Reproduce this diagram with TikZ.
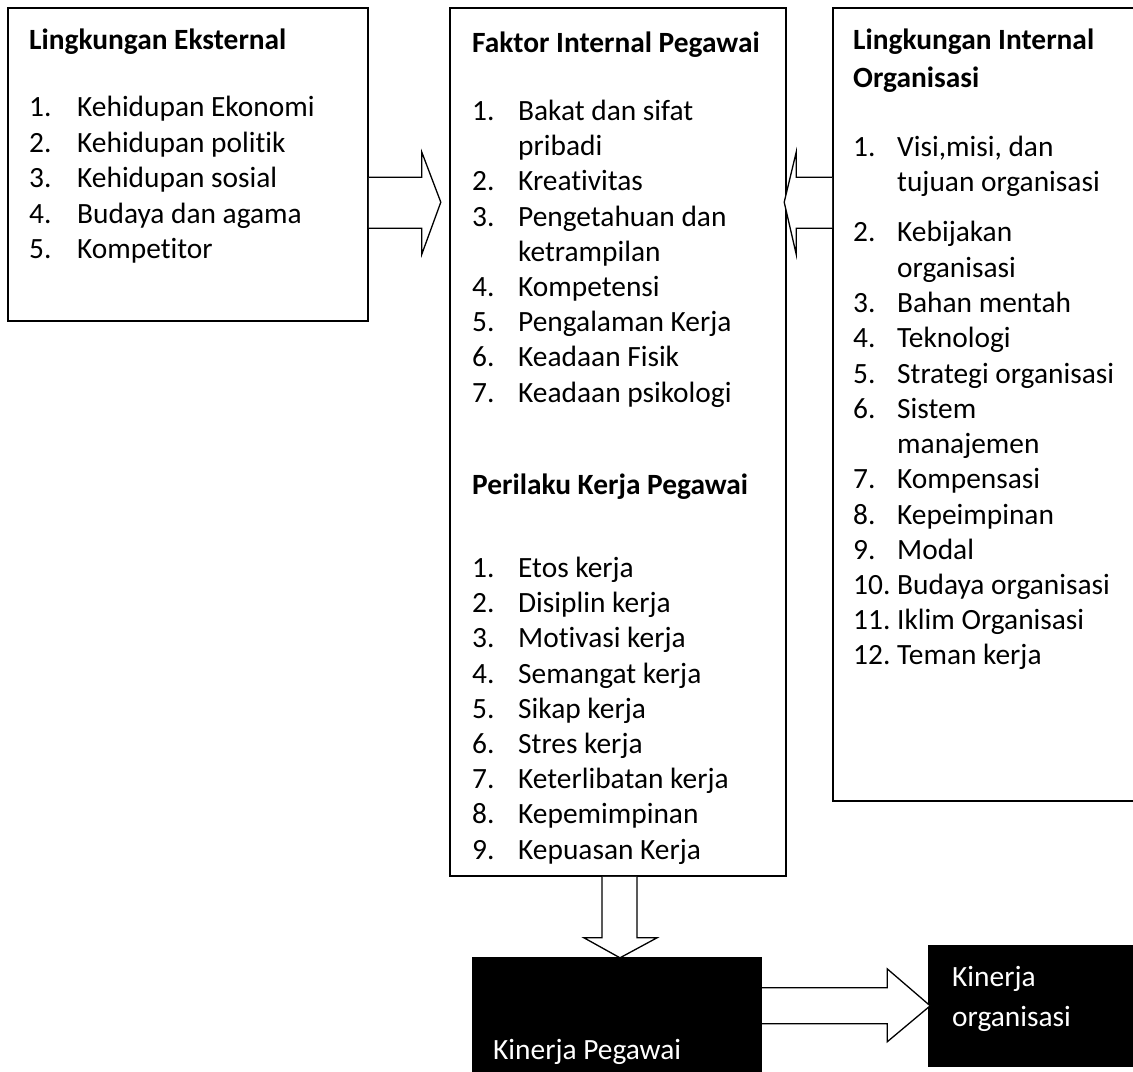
\documentclass[tikz,border=0pt]{standalone}
\usepackage{fontspec}
\setmainfont{Carlito}[Ligatures=NoCommon]
\usetikzlibrary{calc}

\begin{document}
\begin{tikzpicture}[x=1bp,y=-1bp,
  box/.style={draw,line width=1.6bp,inner sep=0pt},
  blackbox/.style={fill=black,inner sep=0pt},
  txt/.style={anchor=base west,inner sep=0pt,font=\fontsize{29.5}{35}\selectfont},
  head/.style={txt,font=\fontsize{29.5}{35}\selectfont\bfseries},
  wtxt/.style={txt,text=white},
  blockarrow/.style={draw,line width=1.3bp,fill=white,line join=miter}]
  \useasboundingbox[fill=white] (0,0) rectangle (1133,1072);

  % boxes
  \node[box,minimum width=360bp,minimum height=313bp] (ext) at (188,164.5) {};
  \node[box,minimum width=336bp,minimum height=868bp] (mid) at (618,442) {};
  \node[box,minimum width=327bp,minimum height=793bp] (org) at (996.5,404.5) {};
  \node[blackbox,minimum width=290bp,minimum height=123bp] (kp) at (617,1018.5) {};
  \node[blackbox,minimum width=232bp,minimum height=122bp] (ko) at (1044,1006) {};

  % block arrows
  \draw[blockarrow] ($(ext.north east)+(0,170)$) -- ++(53,0) -- ++(0,-25) -- ++(19,50)
    -- ++(-19,52) -- ++(0,-26) -- ++(-53,0);
  \draw[blockarrow] ($(org.north west)+(0,170)$) -- ++(-36,0) -- ++(0,-25) -- ++(-12,50)
    -- ++(12,52) -- ++(0,-26) -- ++(36,0);
  \draw[blockarrow] ($(mid.south)+(-16,0)$) -- ++(0,61) -- ++(-18,0) -- ++(36,20)
    -- ++(37,-20) -- ++(-20,0) -- ++(0,-61);
  \draw[blockarrow] ($(kp.north east)+(0,31)$) -- ++(125,0) -- ++(0,-19) -- ++(43,37)
    -- ++(-43,36) -- ++(0,-18) -- ++(-125,0);

  % Lingkungan Eksternal
  \node[head] (ext-t) at (29,49) {Lingkungan Eksternal};
  \foreach \s [count=\i] in {Kehidupan Ekonomi, Kehidupan politik, Kehidupan sosial,
      Budaya dan agama, Kompetitor}
    \node[txt] (ext-\i) at (29,{116.5+35.5*(\i-1)}) {\makebox[48bp][l]{\i.}\s};

  % Faktor Internal Pegawai
  \node[head] (mid-t1) at (472,52) {Faktor Internal Pegawai};
  \foreach \n/\s [count=\i] in {1./Bakat dan sifat, /pribadi, 2./Kreativitas,
      3./Pengetahuan dan, /ketrampilan, 4./Kompetensi, 5./Pengalaman Kerja,
      6./Keadaan Fisik, 7./Keadaan psikologi}
    \node[txt] (mid-a\i) at (472,{120.5+35.2*(\i-1)}) {\makebox[46bp][l]{\n}\s};
  \node[head] (mid-t2) at (472,494.5) {Perilaku Kerja Pegawai};
  \foreach \s [count=\i] in {Etos kerja, Disiplin kerja, Motivasi kerja, Semangat kerja,
      Sikap kerja, Stres kerja, Keterlibatan kerja, Kepemimpinan, Kepuasan Kerja}
    \node[txt] (mid-b\i) at (472,{577.5+35.2*(\i-1)}) {\makebox[46bp][l]{\i.}\s};

  % Lingkungan Internal Organisasi
  \node[head] (org-t1) at (853,49) {Lingkungan Internal};
  \node[head] (org-t2) at (853,87) {Organisasi};
  \foreach \n/\s/\y [count=\i] in {1./{Visi,misi, dan}/156.5, /tujuan organisasi/191.5,
      2./Kebijakan/241.5, /organisasi/277.5, 3./Bahan mentah/312.5, 4./Teknologi/347.5,
      5./Strategi organisasi/383.5, 6./Sistem/418.5, /manajemen/453.5,
      7./Kompensasi/488.5, 8./Kepeimpinan/524.5, 9./Modal/559.5,
      10./Budaya organisasi/594.5, 11./Iklim Organisasi/629.5, 12./Teman kerja/664.5}
    \node[txt] (org-\i) at (853,\y) {\makebox[44bp][l]{\n}\s};

  % Kinerja
  \node[wtxt] (kp-t) at (493,1059) {Kinerja Pegawai};
  \node[wtxt] (ko-t1) at (952,986) {Kinerja};
  \node[wtxt] (ko-t2) at (952,1026) {organisasi};
\end{tikzpicture}
\end{document}
